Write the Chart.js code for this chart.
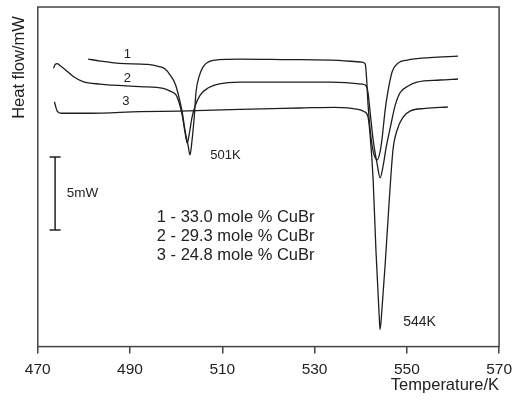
<!DOCTYPE html>
<html>
<head>
<meta charset="utf-8">
<script src="https://cdn.jsdelivr.net/npm/chart.js@4"></script>
<style>
  html, body { margin: 0; padding: 0; background: #fff; }
  #wrap { width: 512px; height: 407px; }
</style>
</head>
<body>
<div id="wrap"><canvas id="dsc" width="512" height="407"></canvas></div>
<script>
// temperatures (K) and heat flow (mW, arbitrary offset)
const temp1 = [480.9, 483.5, 487.8, 493.9, 496.5, 497.6, 498.7, 499.8, 500.6, 501.3, 501.9, 502.6, 503.0, 503.4, 503.9, 504.3, 505.0, 505.8, 506.9, 508.4, 513.9, 524.7, 533.4, 540.3, 541.0, 541.3, 541.6, 542.3, 542.9, 543.6, 544.2, 544.6, 545.3, 545.7, 546.8, 548.1, 550.1, 555.0, 561.1];
const heat1 = [19.73, 19.59, 19.43, 19.36, 19.20, 19.04, 18.63, 18.01, 17.12, 16.10, 14.86, 13.77, 13.15, 14.04, 15.68, 17.47, 18.56, 19.18, 19.52, 19.66, 19.73, 19.69, 19.66, 19.52, 19.38, 18.29, 16.58, 14.18, 13.15, 12.81, 13.36, 14.18, 16.23, 17.12, 18.84, 19.45, 19.66, 19.83, 19.93];

const temp2 = [473.4, 473.75, 474.2, 474.8, 475.9, 477.7, 479.8, 483.5, 492.2, 497.2, 498.7, 500.0, 500.6, 501.3, 501.9, 502.4, 502.8, 503.4, 504.1, 505.2, 506.9, 509.1, 513.9, 533.4, 540.3, 541.2, 541.6, 542.0, 542.7, 543.6, 544.2, 544.9, 545.5, 546.4, 547.5, 548.5, 550.3, 552.2, 557.2, 561.1];
const heat2 = [19.09, 19.35, 19.42, 19.28, 19.01, 18.53, 18.18, 18.01, 17.84, 17.72, 17.53, 17.26, 16.78, 15.89, 14.73, 13.97, 14.52, 15.68, 16.51, 17.26, 17.74, 18.01, 18.15, 18.15, 18.01, 17.88, 17.40, 16.23, 14.18, 12.47, 11.58, 12.47, 13.63, 15.00, 16.58, 17.40, 17.88, 18.15, 18.29, 18.36];

const temp3 = [473.6, 473.9, 474.2, 475.1, 481.3, 492.2, 500.8, 513.9, 526.9, 534.4, 539.4, 540.7, 541.6, 542.0, 542.7, 543.3, 544.0, 544.2, 544.6, 545.3, 546.2, 547.0, 547.9, 549.2, 550.7, 554.0, 558.9];
const heat3 = [16.80, 16.44, 16.16, 16.01, 16.01, 16.12, 16.16, 16.28, 16.37, 16.42, 16.28, 16.13, 15.75, 14.66, 11.44, 6.64, 2.19, 1.16, 2.53, 5.62, 10.07, 13.49, 14.86, 15.75, 16.16, 16.34, 16.44];

const xTicks = [470, 490, 510, 530, 550, 570];

// text placed on the plot, at data coordinates
const notes = [
  { text: '1', x: 489.4, y: 20.07, size: 13, align: 'center' },
  { text: '2', x: 489.4, y: 18.42, size: 13, align: 'center' },
  { text: '3', x: 489.1, y: 16.85, size: 13, align: 'center' },
  { text: '501K', x: 507.4, y: 13.15, size: 13, align: 'left' },
  { text: '544K', x: 549.2, y: 1.71, size: 14, align: 'left' },
  { text: '5mW', x: 476.3, y: 10.55, size: 13.5, align: 'left' },
  { text: '1 - 33.0 mole % CuBr', x: 495.8, y: 8.84, size: 16.5, align: 'left' },
  { text: '2 - 29.3 mole % CuBr', x: 495.8, y: 7.55, size: 16.5, align: 'left' },
  { text: '3 - 24.8 mole % CuBr', x: 495.8, y: 6.25, size: 16.5, align: 'left' }
];
const scaleBar = { x: 473.75, from: 8, to: 13 };

const FONT = '"Liberation Sans", Arial, sans-serif';
const INK = '#1e1e1e';

function pts(xs, ys) {
  return xs.map((x, i) => ({ x: x, y: ys[i] }));
}
function curve(xs, ys) {
  return {
    data: pts(xs, ys),
    borderColor: INK,
    borderWidth: 1.3,
    pointRadius: 0,
    fill: false,
    cubicInterpolationMode: 'monotone'
  };
}

const extras = {
  id: 'extras',
  afterDraw(chart) {
    const ctx = chart.ctx;
    const a = chart.chartArea;
    const xs = chart.scales.x, ys = chart.scales.y;
    ctx.save();
    // box round the plot
    ctx.strokeStyle = '#444';
    ctx.lineWidth = 1.5;
    ctx.strokeRect(a.left, a.top, a.right - a.left, a.bottom - a.top);
    // 5 mW scale bar
    const bx = xs.getPixelForValue(scaleBar.x);
    const y1 = ys.getPixelForValue(scaleBar.to);
    const y2 = ys.getPixelForValue(scaleBar.from);
    ctx.strokeStyle = '#222';
    ctx.lineWidth = 1.5;
    ctx.beginPath();
    ctx.moveTo(bx, y1); ctx.lineTo(bx, y2);
    ctx.moveTo(bx - 5.5, y1); ctx.lineTo(bx + 5.5, y1);
    ctx.moveTo(bx - 5.5, y2); ctx.lineTo(bx + 5.5, y2);
    ctx.stroke();
    // labels
    ctx.fillStyle = '#222';
    ctx.textBaseline = 'middle';
    notes.forEach(n => {
      ctx.font = n.size + 'px ' + FONT;
      ctx.textAlign = n.align;
      ctx.fillText(n.text, xs.getPixelForValue(n.x), ys.getPixelForValue(n.y));
    });
    ctx.restore();
  }
};

new Chart(document.getElementById('dsc'), {
  type: 'line',
  data: {
    datasets: [curve(temp1, heat1), curve(temp2, heat2), curve(temp3, heat3)]
  },
  options: {
    responsive: false,
    animation: false,
    layout: { padding: { top: 7, left: 6, right: 12, bottom: 12 } },
    plugins: { legend: { display: false }, tooltip: { enabled: false } },
    scales: {
      x: {
        type: 'linear',
        min: 470,
        max: 570,
        afterBuildTicks: s => { s.ticks = xTicks.map(v => ({ value: v })); },
        ticks: { font: { family: FONT, size: 15.5, lineHeight: 32.6 / 15.5 }, color: '#222', padding: 0, maxRotation: 0 },
        grid: { display: true, drawOnChartArea: false, drawTicks: true, tickLength: 7, color: '#444', lineWidth: 1.5 },
        border: { display: false },
        title: {
          display: true, text: 'Temperature/K', align: 'end', color: '#222',
          font: { family: FONT, size: 16.5 }, padding: { top: -11, bottom: 0 }
        }
      },
      y: {
        min: 0,
        max: 23.3,
        ticks: { display: false },
        grid: { display: false, drawTicks: false },
        border: { display: false },
        title: {
          // trailing spaces keep the title a little below the top of the box
          display: true, text: 'Heat flow/mW  ', align: 'end', color: '#222',
          font: { family: FONT, size: 16.5 }, padding: { top: 4, bottom: 8 }
        }
      }
    }
  },
  plugins: [extras]
});
</script>
</body>
</html>
